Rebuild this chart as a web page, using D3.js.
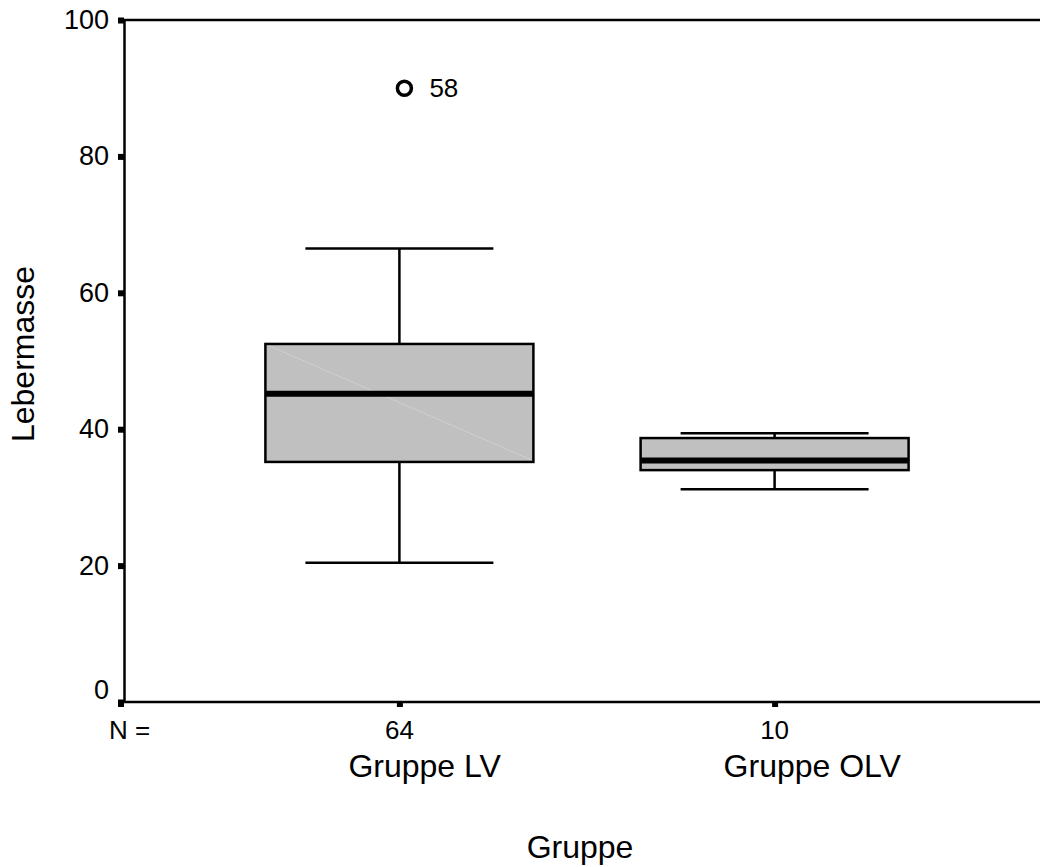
<!DOCTYPE html>
<html><head><meta charset="utf-8">
<script src="https://cdn.jsdelivr.net/npm/d3@7"></script>
<style>body{margin:0;background:#fff}svg{display:block}text{font-family:"Liberation Sans",Arial,sans-serif;fill:#000}</style>
</head><body>
<svg id="c" width="1040" height="867"></svg>
<script>
const categories = ["Gruppe LV", "Gruppe OLV"];
const counts = [64, 10];
const whiskerLow = [20.4, 31.2];
const q1 = [35.2, 34.0];
const median = [45.2, 35.4];
const q3 = [52.5, 38.7];
const whiskerHigh = [66.5, 39.4];
const outliers = [{cat: "Gruppe LV", value: 90, label: "58"}];
const yTicks = [0, 20, 40, 60, 80, 100];

(function () {
const svg = d3.select("#c");
const mLeft = 124, mRight = 1040, mTop = 20, mBottom = 702;
const y = d3.scaleLinear().domain([0, 100]).range([mBottom, mTop]);
const x = d3.scalePoint().domain(categories).range([mLeft, 1050]).padding(0.734);
const boxW = 268, capW = 188;

svg.append("line").attr("x1", mLeft).attr("x2", mRight).attr("y1", mTop).attr("y2", mTop).attr("stroke", "#000").attr("stroke-width", 2.5);
const yAxis = d3.axisLeft(y).tickValues(yTicks).tickSize(0).tickPadding(15);
const gy = svg.append("g").attr("transform", `translate(${mLeft},0)`).call(yAxis);
gy.select(".domain").attr("stroke", "#000").attr("stroke-width", 2.5);
gy.selectAll("text").style("font-size", "27px").attr("dy", "0.35em")
  .attr("y", d => d === 0 ? -13 : -1);
gy.selectAll(".tick").append("rect").attr("x", -6).attr("y", -3).attr("width", 6).attr("height", 6).attr("fill", "#000");

const xAxis = d3.axisBottom(x).tickSize(0).tickFormat("");
const gx = svg.append("g").attr("transform", `translate(0,${mBottom})`).call(xAxis);
gx.select(".domain").attr("stroke", "#000").attr("stroke-width", 2.5).attr("d", `M${mLeft - 3},0H${mRight}`);
gx.selectAll(".tick").append("rect").attr("x", -3).attr("y", 0).attr("width", 6).attr("height", 5).attr("fill", "#000");
svg.append("rect").attr("x", mLeft - 6).attr("y", mBottom).attr("width", 6).attr("height", 5).attr("fill", "#000");

svg.append("text").attr("x", 109).attr("y", 739).style("font-size", "26px").text("N =");
svg.selectAll("text.n").data(categories).join("text").attr("class", "n")
  .attr("x", d => x(d)).attr("y", 739).attr("text-anchor", "middle").style("font-size", "26px")
  .text((d, i) => counts[i]);
svg.selectAll("text.cat").data(categories).join("text").attr("class", "cat")
  .attr("x", d => x(d) - 51).attr("y", 777).attr("text-anchor", "start").style("font-size", "32px")
  .text(d => d);
svg.append("text").attr("x", 580).attr("y", 858).attr("text-anchor", "middle").style("font-size", "32px").text("Gruppe");
svg.append("text").attr("transform", "translate(34,354) rotate(-90)").attr("text-anchor", "middle").style("font-size", "32px").text("Lebermasse");

const g = svg.append("g");
categories.forEach((c, i) => {
  const cx = x(c);
  g.append("line").attr("x1", cx).attr("x2", cx).attr("y1", y(whiskerHigh[i])).attr("y2", y(q3[i])).attr("stroke", "#000").attr("stroke-width", 2.5);
  g.append("line").attr("x1", cx).attr("x2", cx).attr("y1", y(q1[i])).attr("y2", y(whiskerLow[i])).attr("stroke", "#000").attr("stroke-width", 2.5);
  [whiskerHigh[i], whiskerLow[i]].forEach(v => {
    g.append("line").attr("x1", cx - capW / 2).attr("x2", cx + capW / 2).attr("y1", y(v)).attr("y2", y(v)).attr("stroke", "#000").attr("stroke-width", 2.5);
  });
  g.append("rect").attr("x", cx - boxW / 2).attr("y", y(q3[i])).attr("width", boxW).attr("height", y(q1[i]) - y(q3[i]))
    .attr("fill", "#c0c0c0").attr("stroke", "#000").attr("stroke-width", 2.5);
  if (i === 0) {
    g.append("line").attr("x1", cx - boxW / 2 + 4).attr("x2", cx + boxW / 2 - 2).attr("y1", y(q3[i]) + 2).attr("y2", y(q1[i]) - 2)
      .attr("stroke", "#dcdcdc").attr("stroke-width", 0.8).attr("stroke-dasharray", "2,1");
  }
  g.append("line").attr("x1", cx - boxW / 2).attr("x2", cx + boxW / 2).attr("y1", y(median[i])).attr("y2", y(median[i])).attr("stroke", "#000").attr("stroke-width", 6);
});

outliers.forEach(o => {
  const cx = x(o.cat) + 5;
  svg.append("circle").attr("cx", cx).attr("cy", y(o.value)).attr("r", 7).attr("fill", "#fff").attr("stroke", "#000").attr("stroke-width", 3.5);
  svg.append("text").attr("x", cx + 25).attr("y", y(o.value)).attr("dy", "0.35em").style("font-size", "26px").text(o.label);
});
})();
</script>
</body></html>
